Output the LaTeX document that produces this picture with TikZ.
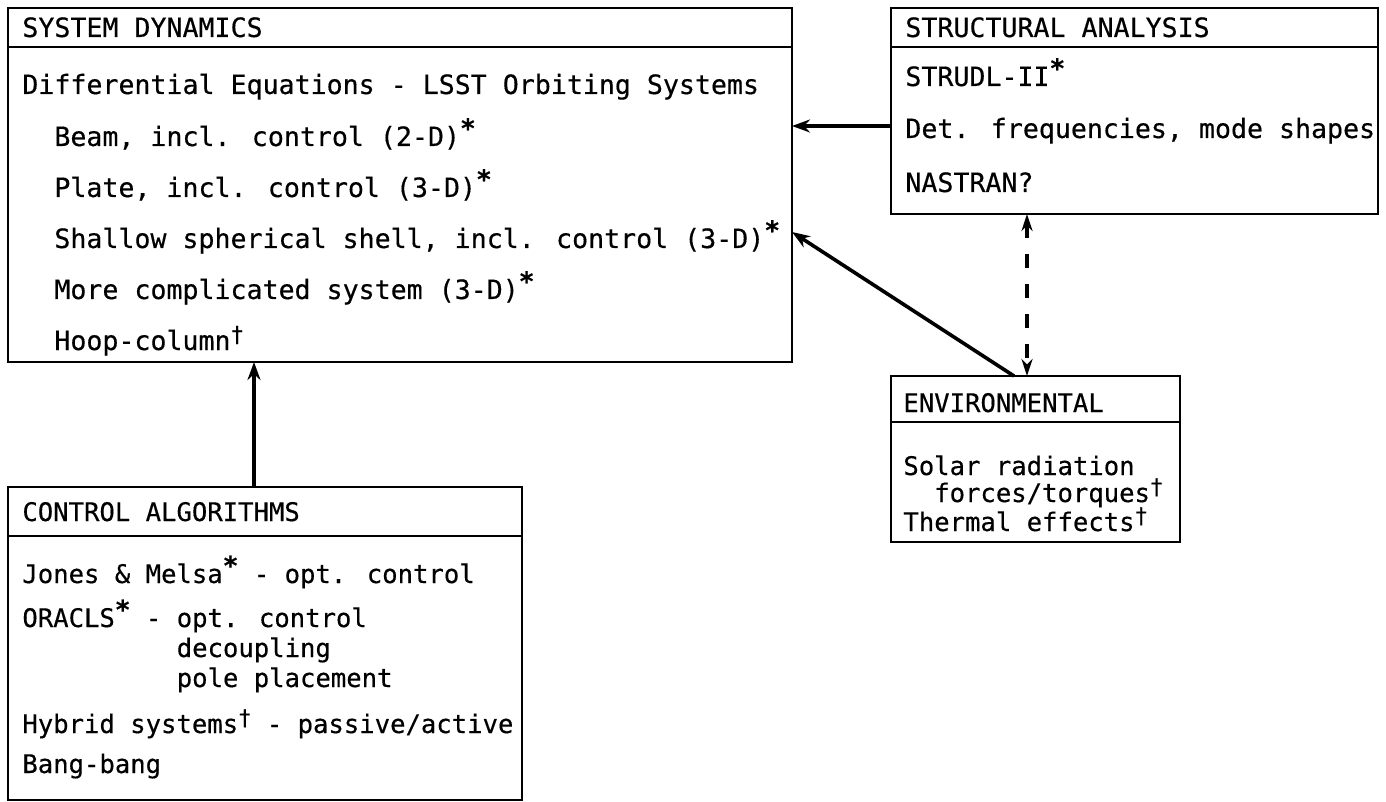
\documentclass[tikz,border=0pt]{standalone}
\usepackage{fontspec}
\setmainfont[FakeBold=0.4]{DejaVu Sans Mono}
\usetikzlibrary{arrows.meta}
\newcommand\supast{\raisebox{0.32em}{\fontsize{13}{13}\selectfont\bfseries *}}
\newcommand\supdag{\raisebox{0.3em}{\fontsize{11}{11}\selectfont †}}
\tikzset{
 boxnode/.style={draw, line width=1.1pt, rectangle, inner sep=0pt, outer sep=0pt, anchor=north west},
 rule/.style={line width=1.1pt},
 bigtxt/.style={inner sep=0pt, anchor=base west, font=\fontsize{13.3}{16}\selectfont},
 smalltxt/.style={inner sep=0pt, anchor=base west, font=\fontsize{12.8}{15}\selectfont},
 arr/.style={line width=1.8pt, -{Stealth[length=9pt,width=6.5pt]}},
 darr/.style={line width=1.9pt, dash pattern=on 7pt off 8pt, {Stealth[length=8.5pt,width=5.5pt]}-{Stealth[length=8.5pt,width=5.5pt]}}
}
\begin{document}
\begin{tikzpicture}[x=0.5pt,y=-0.5pt]
\path[fill=white] (0,0) rectangle (1386,802);
\useasboundingbox (0,0) rectangle (1386,802);
% boxes
\node[boxnode, minimum width=392pt, minimum height=177pt] (sd) at (8,8) {};
\node[boxnode, minimum width=243.5pt, minimum height=103pt] (st) at (891,8) {};
\node[boxnode, minimum width=144.5pt, minimum height=83pt] (en) at (891,376) {};
\node[boxnode, minimum width=257pt, minimum height=156.5pt] (ct) at (8,487) {};
% header rules
\coordinate (h1) at (0,47);
\coordinate (h2) at (0,422);
\coordinate (h3) at (0,536);
\draw[rule] (sd.west |- h1) -- (sd.east |- h1);
\draw[rule] (st.west |- h1) -- (st.east |- h1);
\draw[rule] (en.west |- h2) -- (en.east |- h2);
\draw[rule] (ct.west |- h3) -- (ct.east |- h3);
% system dynamics
\node[bigtxt] (sdt) at (22,37) {SYSTEM DYNAMICS};
\node[bigtxt] (sd1) at (22,94) {Differential Equations - LSST Orbiting Systems};
\node[bigtxt] (sd2) at (54,146) {Beam, incl. control (2-D)\supast};
\node[bigtxt] (sd3) at (54,197) {Plate, incl. control (3-D)\supast};
\node[bigtxt] (sd4) at (54,248) {Shallow spherical shell, incl. control (3-D)\supast};
\node[bigtxt] (sd5) at (54,299) {More complicated system (3-D)\supast};
\node[bigtxt] (sd6) at (54,350) {Hoop-column\supdag};
% structural analysis
\node[bigtxt] (stt) at (905,37) {STRUCTURAL ANALYSIS};
\node[bigtxt] (st1) at (905,86) {STRUDL-II\supast};
\node[bigtxt] (st2) at (905,138) {Det. frequencies, mode shapes};
\node[bigtxt] (st3) at (905,192) {NASTRAN?};
% environmental
\node[smalltxt] (ent) at (903,412) {ENVIRONMENTAL};
\node[smalltxt] (en1) at (903,475) {Solar radiation};
\node[smalltxt] (en2) at (903,502) {\phantom{xx}forces/torques\supdag};
\node[smalltxt] (en3) at (903,531) {Thermal effects\supdag};
% control algorithms
\node[smalltxt] (ctt) at (22,521) {CONTROL ALGORITHMS};
\node[smalltxt] (ct1) at (22,583) {Jones \& Melsa\supast{} - opt. control};
\node[smalltxt] (ct2) at (22,627) {ORACLS\supast{} - opt. control};
\node[smalltxt] (ct3) at (22,657) {\phantom{ORACLS\supast{} - }decoupling};
\node[smalltxt] (ct4) at (22,687) {\phantom{ORACLS\supast{} - }pole placement};
\node[smalltxt] (ct5) at (22,733) {Hybrid systems\supdag{} - passive/active};
\node[smalltxt] (ct6) at (22,773) {Bang-bang};
% connectors
\coordinate (a1) at (254,0);
\draw[arr] (ct.north -| a1) -- (sd.south -| a1);
\coordinate (a2) at (0,126);
\draw[arr] (st.west |- a2) -- (sd.east |- a2);
\coordinate (a3) at (1014,0);
\coordinate (a3e) at (0,232);
\draw[arr] (en.north -| a3) -- (sd.east |- a3e);
\coordinate (a4) at (1027,0);
\draw[darr] (st.south -| a4) -- (en.north -| a4);
\end{tikzpicture}
\end{document}
